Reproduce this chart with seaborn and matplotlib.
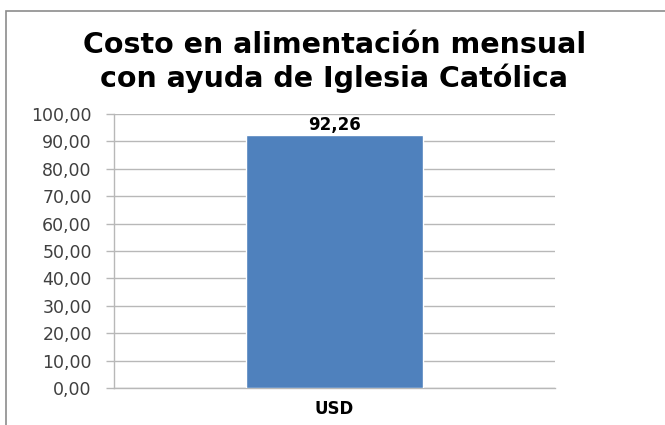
import matplotlib
matplotlib.use("Agg")
import matplotlib.pyplot as plt
import seaborn as sns
import pandas as pd
from matplotlib.patches import Rectangle

categories = ["USD"]
values = [92.26]
value_labels = ["92,26"]
yticks = [0, 10, 20, 30, 40, 50, 60, 70, 80, 90, 100]
ytick_labels = ["0,00", "10,00", "20,00", "30,00", "40,00", "50,00",
                "60,00", "70,00", "80,00", "90,00", "100,00"]
title = "Costo en alimentación mensual\ncon ayuda de Iglesia Católica"

sns.set_style("white")
plt.rcParams['font.family'] = ['DejaVu Sans']

df = pd.DataFrame({"cat": categories, "val": values})

fig = plt.figure(figsize=(6.65, 4.25), dpi=100)
ax = fig.add_axes([0.1714, 0.0871, 0.6632, 0.6447])

sns.barplot(data=df, x="cat", y="val", color="#4f81bd", saturation=1,
            width=0.4, ax=ax, zorder=3)

ax.set_xlim(-0.5, 0.5)
ax.set_ylim(0, 100)
ax.set_yticks(yticks)
ax.set_yticklabels(ytick_labels, fontsize=12.5, color="#404040")
ax.set_xlabel("")
ax.set_ylabel("")
ax.set_xticks([0])
ax.set_xticklabels(categories, fontsize=12, fontweight="bold", color="black")

grid_col = "#b8b8b8"
for y in yticks:
    ax.axhline(y, color=grid_col, lw=1, zorder=1)
ax.tick_params(axis="y", length=6, color=grid_col, width=1, pad=10, left=True)
ax.tick_params(axis="x", length=0, pad=9)
for s in ["top", "right"]:
    ax.spines[s].set_visible(False)
for s in ["left", "bottom"]:
    ax.spines[s].set_color(grid_col)
    ax.spines[s].set_linewidth(1)

for i, (v, lab) in enumerate(zip(values, value_labels)):
    ax.annotate(lab, (i, v), xytext=(0, 1), textcoords="offset points",
                ha="center", va="bottom", fontsize=12, fontweight="bold",
                color="black")

fig.text(0.503, 0.927, title, ha="center", va="top", fontsize=20.5,
         fontweight="bold", color="black", linespacing=1.17)

rect = Rectangle((6 / 665, -0.05), 1.1, 1 - 11 / 425 + 0.05,
                 transform=fig.transFigure, fill=False,
                 edgecolor="#8c8c8c", lw=1.2, clip_on=False)
fig.patches.append(rect)

fig.savefig("out.png", dpi=100, facecolor="white")
